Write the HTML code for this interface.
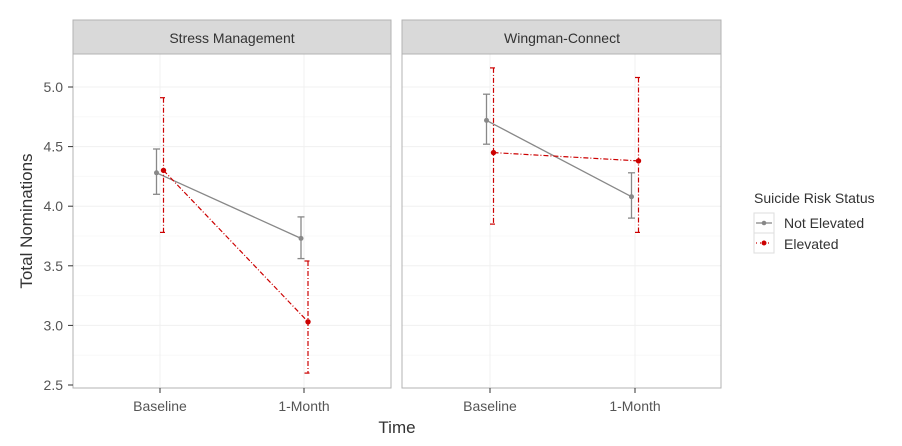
<!DOCTYPE html>
<html><head><meta charset="utf-8"><style>
html,body{margin:0;padding:0;background:#fff;}
svg{display:block;font-family:"Liberation Sans",sans-serif;}
</style></head><body>
<svg width="902" height="446" viewBox="0 0 902 446" xmlns="http://www.w3.org/2000/svg">
<rect width="902" height="446" fill="#fff"/>
<!-- left panel -->
<g>
<rect x="73" y="20" width="318" height="34" fill="#d9d9d9" stroke="#b3b3b3"/>
<text x="232" y="43" text-anchor="middle" font-size="14" fill="#333">Stress Management</text>
<g stroke="#f0f0f0" stroke-width="1">
<line x1="73" x2="391" y1="87" y2="87"/><line x1="73" x2="391" y1="146.6" y2="146.6"/>
<line x1="73" x2="391" y1="206.2" y2="206.2"/><line x1="73" x2="391" y1="265.8" y2="265.8"/>
<line x1="73" x2="391" y1="325.4" y2="325.4"/><line x1="73" x2="391" y1="116.8" y2="116.8" stroke="#f8f8f8"/>
<line x1="73" x2="391" y1="176.4" y2="176.4" stroke="#f8f8f8"/><line x1="73" x2="391" y1="236" y2="236" stroke="#f8f8f8"/>
<line x1="73" x2="391" y1="295.6" y2="295.6" stroke="#f8f8f8"/><line x1="73" x2="391" y1="355.2" y2="355.2" stroke="#f8f8f8"/>
<line x1="160" x2="160" y1="54" y2="388"/><line x1="304" x2="304" y1="54" y2="388"/>
</g>
<rect x="73" y="54" width="318" height="334" fill="none" stroke="#b3b3b3"/>
<!-- NE -->
<g stroke="#888" stroke-width="1.3" fill="none">
<line x1="156.5" y1="172.8" x2="301" y2="238.4"/>
<line x1="156.5" y1="149" x2="156.5" y2="194.3"/><line x1="153" y1="149" x2="160" y2="149"/><line x1="153" y1="194.3" x2="160" y2="194.3"/>
<line x1="301" y1="216.9" x2="301" y2="258.6"/><line x1="297.5" y1="216.9" x2="304.5" y2="216.9"/><line x1="297.5" y1="258.6" x2="304.5" y2="258.6"/>
</g>
<circle cx="156.5" cy="172.8" r="2.5" fill="#888"/><circle cx="301" cy="238.4" r="2.5" fill="#888"/>
<!-- E -->
<g stroke="#cc0000" stroke-width="1.2" fill="none" stroke-dasharray="5,2,1,2">
<line x1="163.5" y1="170.4" x2="308" y2="321.8"/>
<line x1="163.5" y1="97.7" x2="163.5" y2="232.4"/><line x1="160" y1="97.7" x2="167" y2="97.7"/><line x1="160" y1="232.4" x2="167" y2="232.4"/>
<line x1="308" y1="261" x2="308" y2="373.1"/><line x1="304.5" y1="261" x2="311.5" y2="261"/><line x1="304.5" y1="373.1" x2="311.5" y2="373.1"/>
</g>
<circle cx="163.5" cy="170.4" r="2.7" fill="#cc0000"/><circle cx="308" cy="321.8" r="2.7" fill="#cc0000"/>
</g>
<!-- right panel -->
<g>
<rect x="402" y="20" width="319" height="34" fill="#d9d9d9" stroke="#b3b3b3"/>
<text x="562" y="43" text-anchor="middle" font-size="14" fill="#333">Wingman-Connect</text>
<g stroke="#f0f0f0" stroke-width="1">
<line x1="402" x2="721" y1="87" y2="87"/><line x1="402" x2="721" y1="146.6" y2="146.6"/>
<line x1="402" x2="721" y1="206.2" y2="206.2"/><line x1="402" x2="721" y1="265.8" y2="265.8"/>
<line x1="402" x2="721" y1="325.4" y2="325.4"/><line x1="402" x2="721" y1="116.8" y2="116.8" stroke="#f8f8f8"/>
<line x1="402" x2="721" y1="176.4" y2="176.4" stroke="#f8f8f8"/><line x1="402" x2="721" y1="236" y2="236" stroke="#f8f8f8"/>
<line x1="402" x2="721" y1="295.6" y2="295.6" stroke="#f8f8f8"/><line x1="402" x2="721" y1="355.2" y2="355.2" stroke="#f8f8f8"/>
<line x1="490" x2="490" y1="54" y2="388"/><line x1="635" x2="635" y1="54" y2="388"/>
</g>
<rect x="402" y="54" width="319" height="334" fill="none" stroke="#b3b3b3"/>
<g stroke="#888" stroke-width="1.3" fill="none">
<line x1="486.5" y1="120.4" x2="631.5" y2="196.7"/>
<line x1="486.5" y1="94.2" x2="486.5" y2="144.2"/><line x1="483" y1="94.2" x2="490" y2="94.2"/><line x1="483" y1="144.2" x2="490" y2="144.2"/>
<line x1="631.5" y1="172.8" x2="631.5" y2="218.1"/><line x1="628" y1="172.8" x2="635" y2="172.8"/><line x1="628" y1="218.1" x2="635" y2="218.1"/>
</g>
<circle cx="486.5" cy="120.4" r="2.5" fill="#888"/><circle cx="631.5" cy="196.7" r="2.5" fill="#888"/>
<g stroke="#cc0000" stroke-width="1.2" fill="none" stroke-dasharray="5,2,1,2">
<line x1="493.5" y1="152.6" x2="638.5" y2="160.9"/>
<line x1="493.5" y1="67.9" x2="493.5" y2="224.1"/><line x1="490" y1="67.9" x2="497" y2="67.9"/><line x1="490" y1="224.1" x2="497" y2="224.1"/>
<line x1="638.5" y1="77.5" x2="638.5" y2="232.4"/><line x1="635" y1="77.5" x2="642" y2="77.5"/><line x1="635" y1="232.4" x2="642" y2="232.4"/>
</g>
<circle cx="493.5" cy="152.6" r="2.7" fill="#cc0000"/><circle cx="638.5" cy="160.9" r="2.7" fill="#cc0000"/>
</g>
<!-- y axis -->
<g font-size="14" fill="#555" text-anchor="end">
<text x="63" y="92">5.0</text><text x="63" y="151.6">4.5</text><text x="63" y="211.2">4.0</text>
<text x="63" y="270.8">3.5</text><text x="63" y="330.4">3.0</text><text x="63" y="390">2.5</text>
</g>
<g stroke="#333" stroke-width="1">
<line x1="68" x2="73" y1="87" y2="87"/><line x1="68" x2="73" y1="146.6" y2="146.6"/><line x1="68" x2="73" y1="206.2" y2="206.2"/>
<line x1="68" x2="73" y1="265.8" y2="265.8"/><line x1="68" x2="73" y1="325.4" y2="325.4"/><line x1="68" x2="73" y1="385" y2="385"/>
<line x1="160" x2="160" y1="388" y2="393"/><line x1="304" x2="304" y1="388" y2="393"/>
<line x1="490" x2="490" y1="388" y2="393"/><line x1="635" x2="635" y1="388" y2="393"/>
</g>
<text transform="translate(32,221) rotate(-90)" text-anchor="middle" font-size="17" fill="#333">Total Nominations</text>
<g font-size="14" fill="#555" text-anchor="middle">
<text x="160" y="411">Baseline</text><text x="304" y="411">1-Month</text>
<text x="490" y="411">Baseline</text><text x="635" y="411">1-Month</text>
</g>
<text x="397" y="433" text-anchor="middle" font-size="17" fill="#333">Time</text>
<!-- legend -->
<text x="754" y="203" font-size="14" fill="#333">Suicide Risk Status</text>
<rect x="754" y="213" width="20" height="20" fill="#fff" stroke="#ddd"/>
<rect x="754" y="233" width="20" height="20" fill="#fff" stroke="#ddd"/>
<line x1="756" x2="772" y1="223" y2="223" stroke="#888" stroke-width="1.3"/>
<circle cx="764" cy="223" r="2.3" fill="#888"/>
<line x1="756" x2="772" y1="243" y2="243" stroke="#cc0000" stroke-width="1.2" stroke-dasharray="1,3"/>
<circle cx="764" cy="243" r="2.5" fill="#cc0000"/>
<text x="784" y="228" font-size="14" fill="#333">Not Elevated</text>
<text x="784" y="249" font-size="14" fill="#333">Elevated</text>
</svg>
</body></html>
